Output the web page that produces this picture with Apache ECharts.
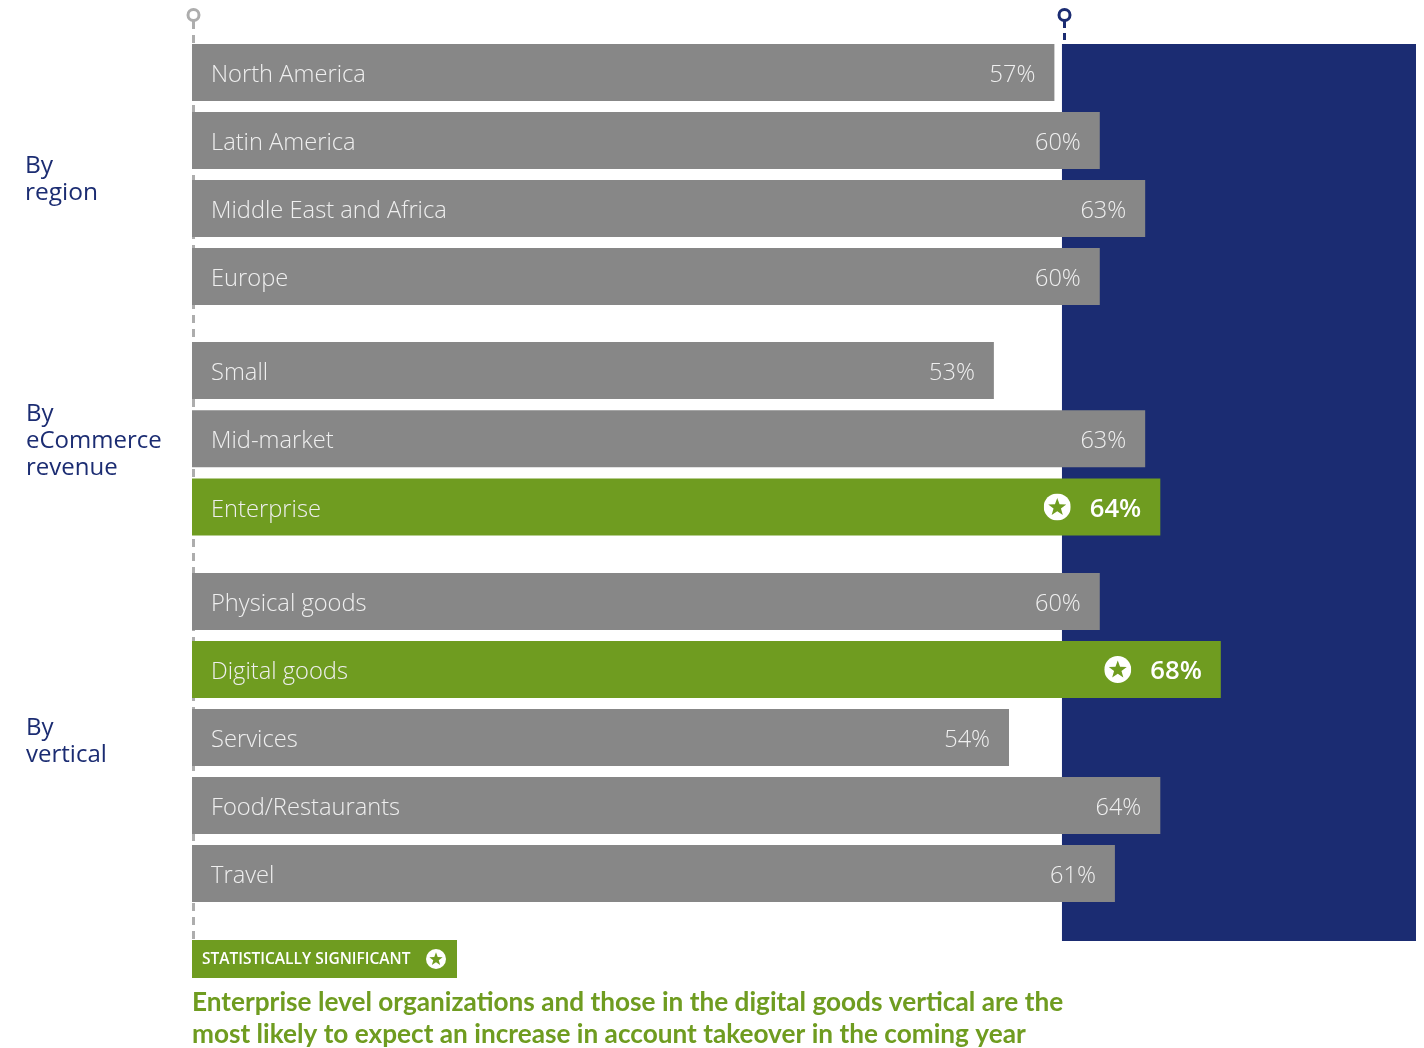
<!DOCTYPE html>
<html>
<head>
<meta charset="utf-8">
<style>html,body{margin:0;padding:0;background:#fff}#c{width:1424px;height:1048px}</style>
<script src="https://cdn.jsdelivr.net/npm/echarts@6/dist/echarts.min.js"></script>
</head>
<body>
<div id="c"></div>
<script>
// Expected increase in account takeover, by segment (percent of respondents)
const regionNames = ['North America', 'Latin America', 'Middle East and Africa', 'Europe'];
const regionValues = [57, 60, 63, 60];
const revenueNames = ['Small', 'Mid-market', 'Enterprise'];
const revenueValues = [53, 63, 64];
const verticalNames = ['Physical goods', 'Digital goods', 'Services', 'Food/Restaurants', 'Travel'];
const verticalValues = [60, 68, 54, 64, 61];
const significant = ['Enterprise', 'Digital goods'];
const overallAverage = 57.5;
const groupTitles = ['By\nregion', 'By\neCommerce\nrevenue', 'By\nvertical'];
const legendText = 'STATISTICALLY SIGNIFICANT';
const headline = 'Enterprise level organizations and those in the digital goods vertical are the\nmost likely to expect an increase in account takeover in the coming year';

const GREY = '#878787', GREEN = '#6f9c20', NAVY = '#1b2c72', PIN = '#adadad';
const SANS = '"Open Sans", "Noto Sans", sans-serif';
const LEFT = 192, WIDTH = 1224, AXIS_MAX = 80.9, BAND = 68;
const px = v => LEFT + v / AXIS_MAX * WIDTH;

// White disc with a star knocked out in the bar colour
const starIcon = 'data:image/svg+xml;utf8,' + encodeURIComponent(
  '<svg xmlns="http://www.w3.org/2000/svg" width="54" height="54" viewBox="0 0 54 54">' +
  '<circle cx="27" cy="27" r="27" fill="#fff"/>' +
  '<polygon fill="' + GREEN + '" points="27,9 31.6,21.6 45,22 34.4,30.2 38.2,43 27,35.6 15.8,43 19.6,30.2 9,22 22.4,21.6"/></svg>');

const groups = [
  { names: regionNames, values: regionValues, top: 38.5 },
  { names: revenueNames, values: revenueValues, top: 336.5 },
  { names: verticalNames, values: verticalValues, top: 567.5 }
];

const grids = [], xAxes = [], yAxes = [], series = [];

// Navy panel sits on its own full-height grid, behind the bars
grids.push({ left: LEFT, width: WIDTH, top: 44, height: 897 });
xAxes.push({ gridIndex: 0, type: 'value', min: 0, max: AXIS_MAX, show: false });
yAxes.push({ gridIndex: 0, type: 'value', min: 0, max: 1, show: false });
series.push({
  type: 'line', xAxisIndex: 0, yAxisIndex: 0, data: [], z: 1, silent: true,
  markArea: {
    silent: true, itemStyle: { color: NAVY, opacity: 1 },
    data: [[{ xAxis: overallAverage, yAxis: 0 }, { xAxis: AXIS_MAX, yAxis: 1 }]]
  }
});

groups.forEach((g, i) => {
  const idx = i + 1;
  grids.push({ left: LEFT, width: WIDTH, top: g.top, height: g.names.length * BAND + (i === 1 ? 0.5 : 0) });
  xAxes.push({ gridIndex: idx, type: 'value', min: 0, max: AXIS_MAX, show: false });
  yAxes.push({
    gridIndex: idx, type: 'category', inverse: true, data: g.names, z: 5,
    axisLine: { show: false }, axisTick: { show: false }, splitLine: { show: false },
    axisLabel: {
      inside: true, margin: 19,
      formatter: '{name|{value}}',
      rich: { name: { color: '#efefef', fontFamily: SANS, fontWeight: 300, fontSize: 23.7, padding: [6, 0, 0, 0] } }
    }
  });
  series.push({
    type: 'bar', xAxisIndex: idx, yAxisIndex: idx, barWidth: 57, z: 3,
    data: g.values.map((v, k) => ({
      value: v,
      itemStyle: { color: significant.includes(g.names[k]) ? GREEN : GREY },
      label: significant.includes(g.names[k])
        ? { formatter: '{star|}{gap|}{strong|{c}%}' }
        : { formatter: '{plain|{c}%}' }
    })),
    label: {
      show: true, position: 'insideRight', distance: 19,
      color: '#efefef', fontFamily: SANS, fontWeight: 300, fontSize: 23,
      rich: {
        plain: { color: '#efefef', fontFamily: SANS, fontWeight: 300, fontSize: 23.5, padding: [6, 0, 0, 0] },
        star: { width: 27, height: 27, backgroundColor: { image: starIcon } },
        gap: { width: 19 },
        strong: { color: '#fff', fontFamily: SANS, fontWeight: 600, fontSize: 25.7, padding: [5, 0, 0, 0] }
      }
    }
  });
});

const pin = (x, color) => [
  { type: 'circle', z: 1, shape: { cx: x, cy: 15, r: 5.5 }, style: { fill: '#fff', stroke: color, lineWidth: 3 } },
];

const graphic = [
  { type: 'line', z: 0, shape: { x1: px(0) + 1.5, y1: 21, x2: px(0) + 1.5, y2: 939 }, style: { stroke: PIN, lineWidth: 3, lineDash: [8, 6] } },
  { type: 'line', z: 0, shape: { x1: 1064.5, y1: 21, x2: 1064.5, y2: 42 }, style: { stroke: NAVY, lineWidth: 3, lineDash: [7, 5] } },
  ...pin(px(0) + 1.5, PIN),
  ...pin(1064.5, NAVY),
  { type: 'text', x: 25, y: 153, style: { text: groupTitles[0], fill: NAVY, font: '400 24.5px ' + SANS, lineHeight: 27 } },
  { type: 'text', x: 26, y: 401, style: { text: groupTitles[1], fill: NAVY, font: '400 24px ' + SANS, lineHeight: 27 } },
  { type: 'text', x: 26, y: 715, style: { text: groupTitles[2], fill: NAVY, font: '400 24px ' + SANS, lineHeight: 27 } },
  { type: 'rect', z: 4, shape: { x: 192, y: 940, width: 265, height: 38 }, style: { fill: GREEN } },
  { type: 'text', z: 5, x: 202, y: 952, style: { text: legendText, fill: '#fff', font: '600 15.5px ' + SANS } },
  { type: 'image', z: 5, style: { image: starIcon, x: 426, y: 949, width: 20, height: 20 } },
  { type: 'text', z: 5, x: 192, y: 987, style: { text: headline, fill: GREEN, font: '700 26.2px Lato, ' + SANS, lineHeight: 32 } }
];

const chart = echarts.init(document.getElementById('c'), null, { renderer: 'canvas' });
chart.setOption({
  animation: false,
  backgroundColor: '#fff',
  grid: grids, xAxis: xAxes, yAxis: yAxes, series, graphic
});
</script>
</body>
</html>
